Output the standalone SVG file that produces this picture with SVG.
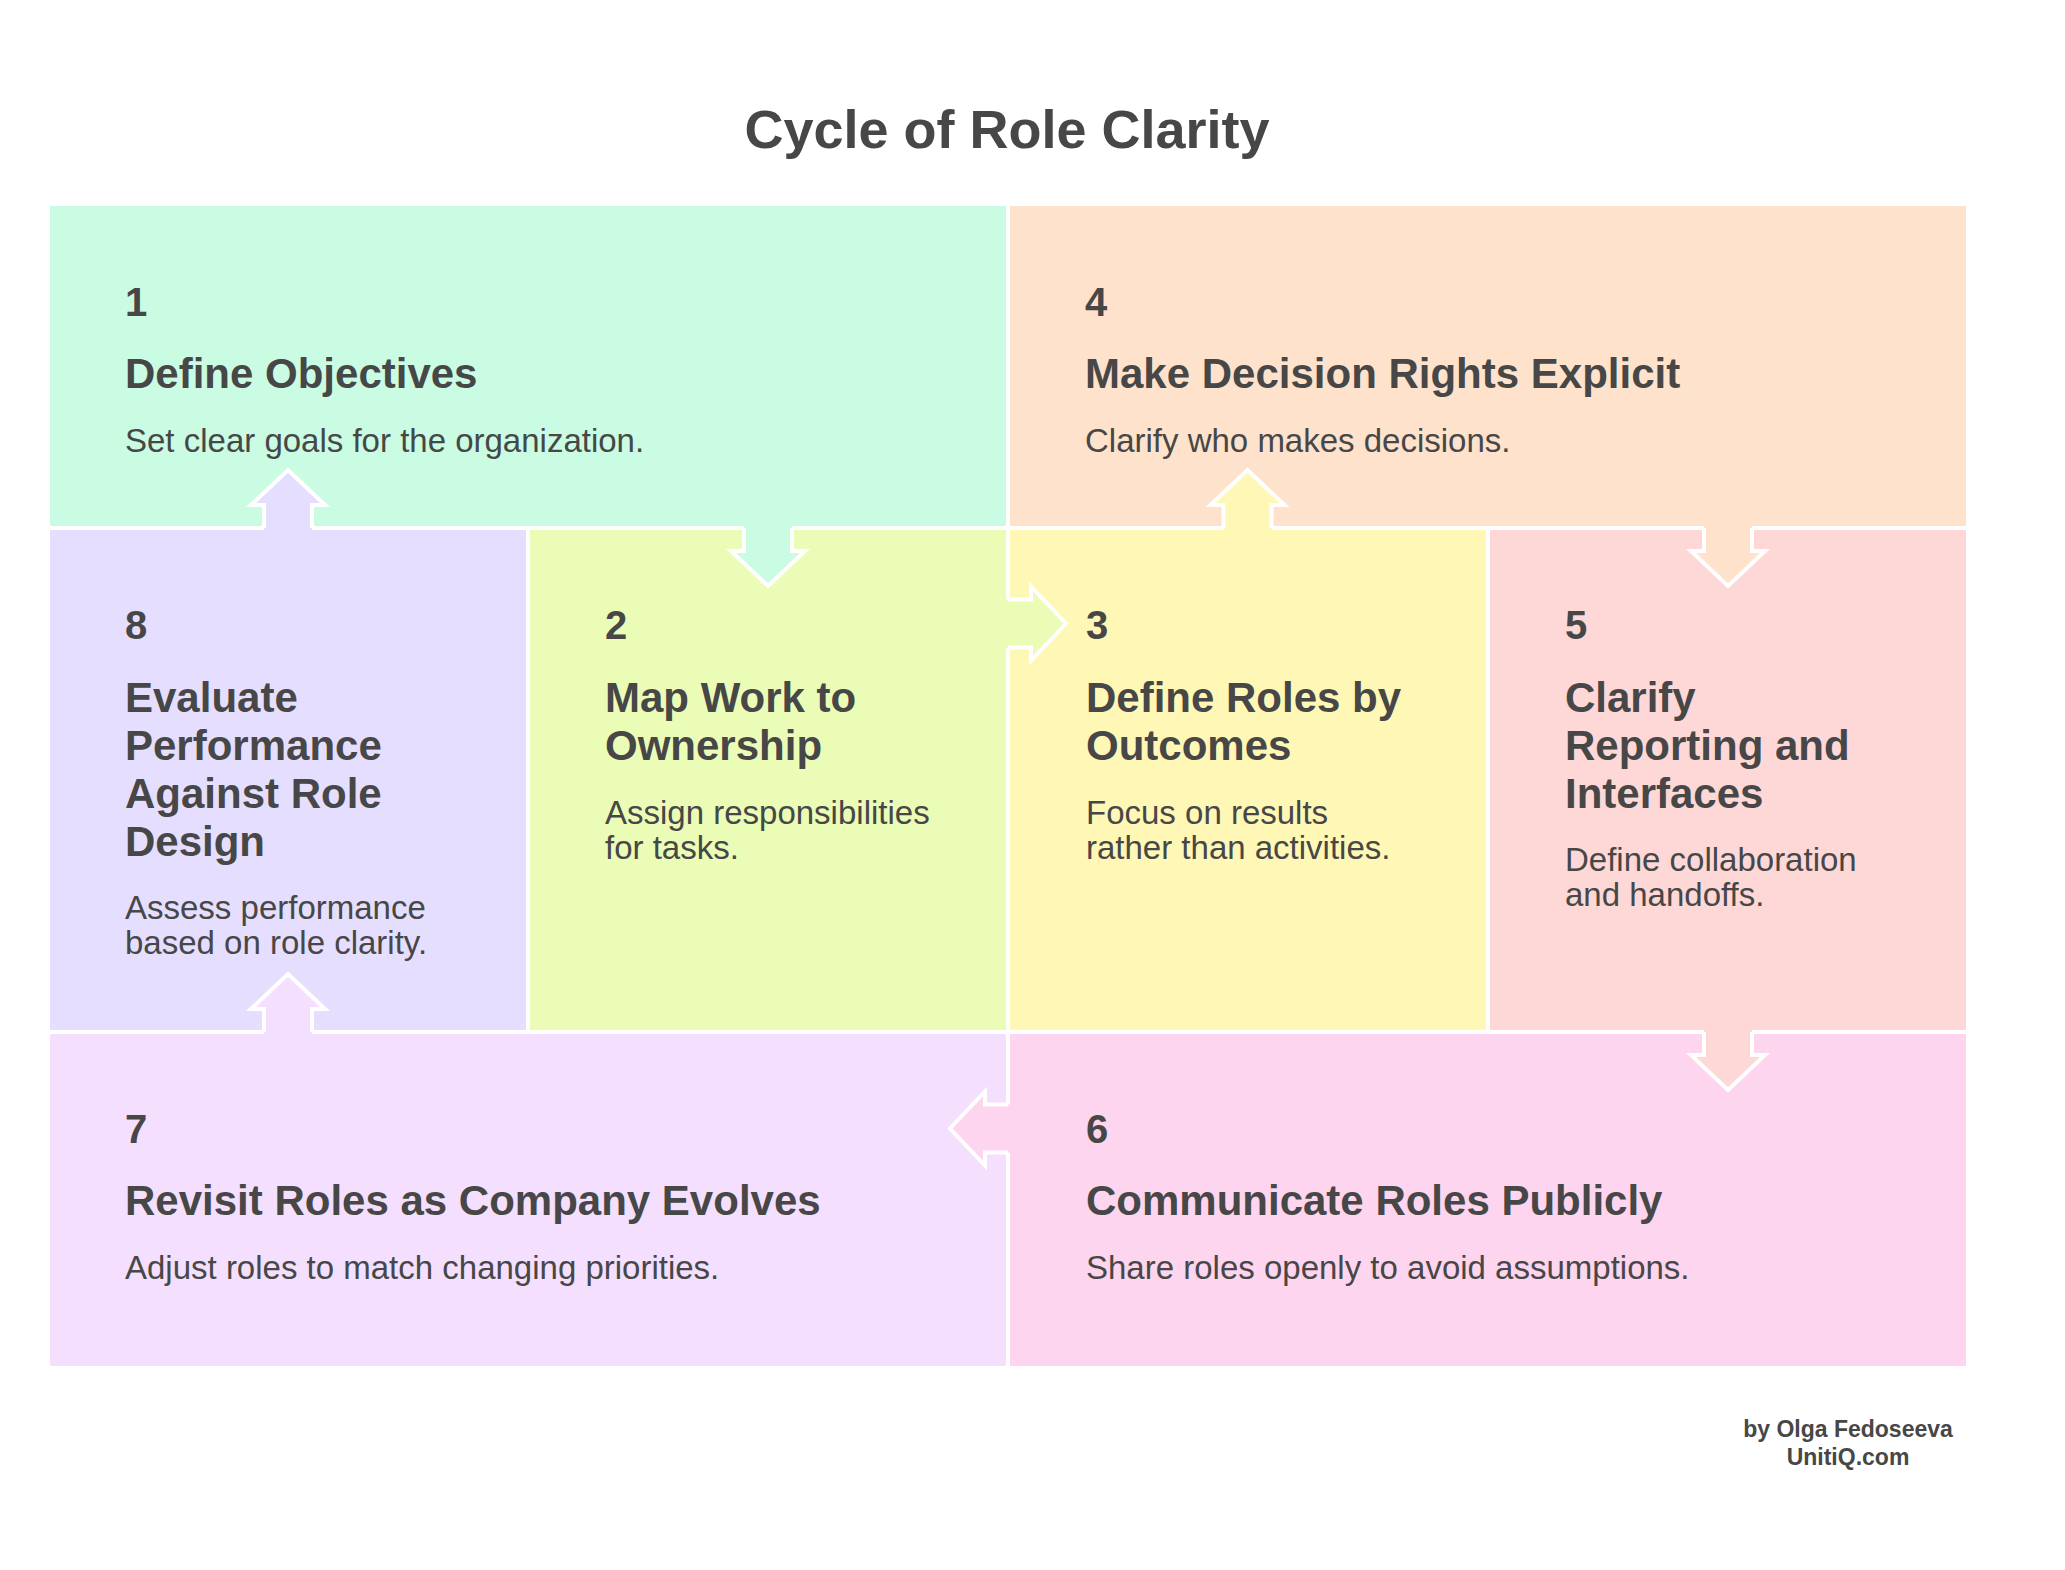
<svg xmlns="http://www.w3.org/2000/svg" width="2065" height="1570" viewBox="0 0 2065 1570">
<style>
text { font-family: "Liberation Sans", Arial, sans-serif; fill: #474747; }
.ttl { font-size: 54px; font-weight: bold; }
.num { font-size: 40px; font-weight: bold; }
.hd { font-size: 42px; font-weight: bold; }
.ds { font-size: 33px; }
.ft { font-size: 23px; font-weight: bold; }
.div { stroke: #ffffff; stroke-width: 4; fill: none; }
.arw { stroke: #ffffff; stroke-width: 4; fill: none; stroke-linejoin: miter; }
</style>
<rect x="0" y="0" width="2065" height="1570" fill="#ffffff"/>
<text class="ttl" x="1007" y="148" text-anchor="middle">Cycle of Role Clarity</text>

<g id="node1">
<rect x="50" y="206" width="958" height="322" fill="#C9FCE3"/>
<text class="num" x="125" y="316">1</text>
<text class="hd" x="125" y="388">Define Objectives</text>
<text class="ds" x="125" y="452">Set clear goals for the organization.</text>
</g>
<g id="node4">
<rect x="1008" y="206" width="958" height="322" fill="#FEE2CB"/>
<text class="num" x="1085" y="316">4</text>
<text class="hd" x="1085" y="388">Make Decision Rights Explicit</text>
<text class="ds" x="1085" y="452">Clarify who makes decisions.</text>
</g>
<g id="node8">
<rect x="50" y="528" width="478" height="504" fill="#E5DEFE"/>
<text class="num" x="125" y="639">8</text>
<text class="hd" x="125" y="712">Evaluate</text>
<text class="hd" x="125" y="760">Performance</text>
<text class="hd" x="125" y="808">Against Role</text>
<text class="hd" x="125" y="856">Design</text>
<text class="ds" x="125" y="919">Assess performance</text>
<text class="ds" x="125" y="954">based on role clarity.</text>
</g>
<g id="node2">
<rect x="528" y="528" width="480" height="504" fill="#EAFCB5"/>
<text class="num" x="605" y="639">2</text>
<text class="hd" x="605" y="712">Map Work to</text>
<text class="hd" x="605" y="760">Ownership</text>
<text class="ds" x="605" y="824">Assign responsibilities</text>
<text class="ds" x="605" y="859">for tasks.</text>
</g>
<g id="node3">
<rect x="1008" y="528" width="480" height="504" fill="#FFF7B5"/>
<text class="num" x="1086" y="639">3</text>
<text class="hd" x="1086" y="712">Define Roles by</text>
<text class="hd" x="1086" y="760">Outcomes</text>
<text class="ds" x="1086" y="824">Focus on results</text>
<text class="ds" x="1086" y="859">rather than activities.</text>
</g>
<g id="node5">
<rect x="1488" y="528" width="478" height="504" fill="#FED7D7"/>
<text class="num" x="1565" y="639">5</text>
<text class="hd" x="1565" y="712">Clarify</text>
<text class="hd" x="1565" y="760">Reporting and</text>
<text class="hd" x="1565" y="808">Interfaces</text>
<text class="ds" x="1565" y="871">Define collaboration</text>
<text class="ds" x="1565" y="906">and handoffs.</text>
</g>
<g id="node7">
<rect x="50" y="1032" width="958" height="334" fill="#F4DFFE"/>
<text class="num" x="125" y="1143">7</text>
<text class="hd" x="125" y="1215">Revisit Roles as Company Evolves</text>
<text class="ds" x="125" y="1279">Adjust roles to match changing priorities.</text>
</g>
<g id="node6">
<rect x="1008" y="1032" width="958" height="334" fill="#FED5EE"/>
<text class="num" x="1086" y="1143">6</text>
<text class="hd" x="1086" y="1215">Communicate Roles Publicly</text>
<text class="ds" x="1086" y="1279">Share roles openly to avoid assumptions.</text>
</g>

<g id="dividers">
<line class="div" x1="50" y1="528" x2="1966" y2="528"/>
<line class="div" x1="50" y1="1032" x2="1966" y2="1032"/>
<line class="div" x1="1008" y1="206" x2="1008" y2="1366"/>
<line class="div" x1="528" y1="528" x2="528" y2="1032"/>
<line class="div" x1="1488" y1="528" x2="1488" y2="1032"/>
</g>

<g id="connectors">
<!-- 8 -> 1 (up) -->
<polygon points="264,532 264,505 251,505 288,470 325,505 312,505 312,532" fill="#E5DEFE"/>
<polyline class="arw" points="264,528 264,505 251,505 288,470 325,505 312,505 312,528"/>
<!-- 1 -> 2 (down) -->
<polygon points="744,524 744,551 731,551 768,586 805,551 792,551 792,524" fill="#C9FCE3"/>
<polyline class="arw" points="744,528 744,551 731,551 768,586 805,551 792,551 792,528"/>
<!-- 2 -> 3 (right) -->
<polygon points="1004,599.5 1031,599.5 1031,586.5 1066,623.5 1031,660.5 1031,647.5 1004,647.5" fill="#EAFCB5"/>
<polyline class="arw" points="1008,599.5 1031,599.5 1031,586.5 1066,623.5 1031,660.5 1031,647.5 1008,647.5"/>
<!-- 3 -> 4 (up) -->
<polygon points="1223.5,532 1223.5,505 1210.5,505 1247.5,470 1284.5,505 1271.5,505 1271.5,532" fill="#FFF7B5"/>
<polyline class="arw" points="1223.5,528 1223.5,505 1210.5,505 1247.5,470 1284.5,505 1271.5,505 1271.5,528"/>
<!-- 4 -> 5 (down) -->
<polygon points="1704,524 1704,551 1691,551 1728,586 1765,551 1752,551 1752,524" fill="#FEE2CB"/>
<polyline class="arw" points="1704,528 1704,551 1691,551 1728,586 1765,551 1752,551 1752,528"/>
<!-- 5 -> 6 (down) -->
<polygon points="1704,1028 1704,1055 1691,1055 1728,1090 1765,1055 1752,1055 1752,1028" fill="#FED7D7"/>
<polyline class="arw" points="1704,1032 1704,1055 1691,1055 1728,1090 1765,1055 1752,1055 1752,1032"/>
<!-- 6 -> 7 (left) -->
<polygon points="1012,1104.5 985,1104.5 985,1091.5 950,1128.5 985,1165.5 985,1152.5 1012,1152.5" fill="#FED5EE"/>
<polyline class="arw" points="1008,1104.5 985,1104.5 985,1091.5 950,1128.5 985,1165.5 985,1152.5 1008,1152.5"/>
<!-- 7 -> 8 (up) -->
<polygon points="264,1036 264,1009 251,1009 288,974 325,1009 312,1009 312,1036" fill="#F4DFFE"/>
<polyline class="arw" points="264,1032 264,1009 251,1009 288,974 325,1009 312,1009 312,1032"/>
</g>

<g id="footer">
<text class="ft" x="1848" y="1437" text-anchor="middle">by Olga Fedoseeva</text>
<text class="ft" x="1848" y="1465" text-anchor="middle">UnitiQ.com</text>
</g>
</svg>
